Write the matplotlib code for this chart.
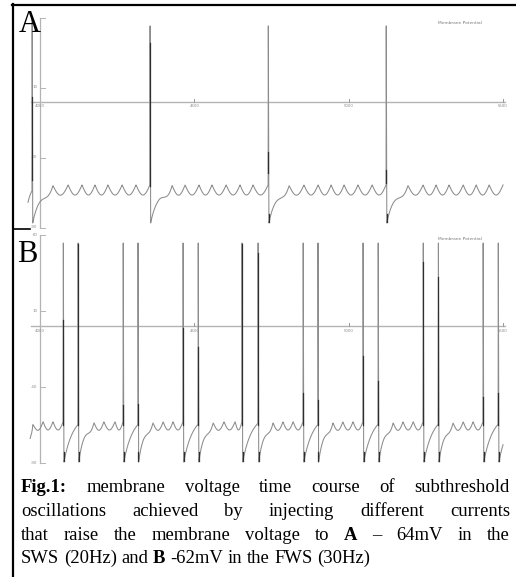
import numpy as np
import matplotlib
matplotlib.use("Agg")
import matplotlib.pyplot as plt

# time axis (ms) shared by both traces
x_ticks = [4000, 4500, 5000, 5500]
v_ticks = [60, 10, -40, -90]

# A: slow wave state, spikes riding on ~20 Hz subthreshold oscillations
a_start = (3961, -72)
a_spike_times = [3974, 4356, 4739, 5121]
a_spike_peaks = [60, 54, 54, 54]
a_trough = -86.8
a_rest = -66.8
a_osc_amp = 7.2
a_bumps = [[4042, 4091, 4136, 4178, 4220, 4266, 4311],
           [4428, 4470, 4515, 4557, 4603, 4648, 4690],
           [4807, 4855, 4901, 4943, 4985, 5030, 5076],
           [5192, 5241, 5283, 5325, 5371, 5413, 5455]]
# stretches of each spike where rise and fall overlap (drawn darker)
a_dark = [(3, -56), (42, -60), (-36, -51), (-49, -58)]
a_trough_dark = [False, False, True, True]

# B: fast wave state, spike doublets with ~30 Hz oscillations in between
b_start = (3968, -74)
b_spike_times = [4075, 4123, 4269, 4317, 4463, 4512, 4654, 4706,
                 4852, 4900, 5046, 5095, 5241, 5290, 5435, 5484]
b_spike_peak = 54.6
b_trough = -89.5
b_rest = -68.4
b_osc_amp = 5.4
b_bumps = [[3977, 4010, 4042], [4175, 4207, 4243], [4366, 4399, 4431],
           [4561, 4596, 4632], [4755, 4787, 4820], [4949, 4981, 5014],
           [5144, 5176, 5209], [5338, 5371, 5403]]
b_dark_tops = [4, 54, -52, -51, -1, -14, 54, 48,
               -44, -49, -20, -36, 42, 32, -47, -44]
b_dark_bottom = -65

t_end = 5500

W, H = 516, 577
PX_MS = 0.3087       # pixels per ms
X0_PX = 40           # pixel column of t = 4000


def relax(t0, t1, v0, base, tau, amp=0.0, bumps=()):
    """exponential recovery towards base, with optional oscillation peaks"""
    t = np.linspace(t0, t1, int((t1 - t0) / 0.2) + 2)
    v = base + (v0 - base) * np.exp(-(t - t0) / tau)
    if len(bumps) > 0:
        pk = np.array([2 * bumps[0] - bumps[1]] + list(bumps) + [t1], dtype=float)
        i = np.clip(np.searchsorted(pk, t, side="right") - 1, 0, len(pk) - 2)
        ph = np.clip((t - pk[i]) / (pk[i + 1] - pk[i]), 0, 1)
        env = np.clip((t - t0) / (bumps[0] - t0), 0, 1) ** 2
        v = v + env * amp * (1 - np.sin(np.pi * ph))
    return list(t), list(v)


def spike(ts, peak, trough):
    return [ts + 0.6, ts + 2.5], [peak, trough]


# --- build trace A
ta, va = relax(a_start[0], a_spike_times[0], a_start[1], -58, 15)
for k, ts in enumerate(a_spike_times):
    st, sv = spike(ts, a_spike_peaks[k], a_trough)
    ta += st
    va += sv
    t1 = a_spike_times[k + 1] if k + 1 < len(a_spike_times) else t_end
    t, v = relax(ts + 2.5, t1, a_trough, a_rest, 18, a_osc_amp, a_bumps[k])
    ta += t
    va += v

# --- build trace B
tb, vb = relax(b_start[0], b_spike_times[0], b_start[1], b_rest, 8, b_osc_amp, b_bumps[0])
for k, ts in enumerate(b_spike_times):
    st, sv = spike(ts, b_spike_peak, b_trough)
    tb += st
    vb += sv
    last = k + 1 == len(b_spike_times)
    t1 = t_end if last else b_spike_times[k + 1]
    if k % 2 == 0 or last:
        t, v = relax(ts + 2.5, t1, b_trough, -58, 30)
    else:
        t, v = relax(ts + 2.5, t1, b_trough, b_rest, 14, b_osc_amp, b_bumps[(k + 1) // 2])
    tb += t
    vb += v


def t_of(px):
    return 4000 + (px - X0_PX) / PX_MS


fig = plt.figure(figsize=(W / 100, H / 100), dpi=100)
fig.patch.set_facecolor("white")

trace_col = "#8c8c8c"
axis_col = "#b4b4b4"
tick_font = dict(fontsize=2.8, color="#8a8a8a", family="DejaVu Sans")


def panel(top_px, bot_px, zero_px, px_mv, legend_px, hidden_ticks=()):
    ax = fig.add_axes([0, 1 - bot_px / H, 1, (bot_px - top_px) / H])
    ax.set_xlim(t_of(0), t_of(W))
    ax.set_ylim((zero_px - bot_px) / px_mv, (zero_px - top_px) / px_mv)
    ax.axis("off")
    # graph axes of the simulator window
    ax.plot([t_of(0) + 100, t_end + 5], [0, 0], color=axis_col, lw=1.0, zorder=1)
    ax.plot([4000, 4000], [v_ticks[-1], v_ticks[0]], color=axis_col, lw=0.9, zorder=1)
    for v in v_ticks:
        ax.plot([4000, 4000 + 5 / PX_MS], [v, v], color=axis_col, lw=0.7, zorder=1)
        if v not in hidden_ticks:
            ax.text(4000 - 2.5 / PX_MS, v, str(v), ha="right", va="center", **tick_font)
    for t in x_ticks:
        if t != 4000:
            ax.plot([t, t], [0, 3 / px_mv], color="#999999", lw=0.7, zorder=1)
        ax.text(t, -2.5 / px_mv, str(t), ha="center", va="top", **tick_font)
    ax.text(t_of(438), (zero_px - legend_px) / px_mv, "Membrane Potential",
            ha="left", va="center", fontsize=3.2, color="#7a7a7a")
    return ax


# the top label of A sits under the panel letter
ax_a = panel(0, 229, 101.5, 1.4, 23, hidden_ticks=(60,))
ax_a.plot(ta, va, color=trace_col, lw=0.75, zorder=3)
for ts, (top, bot), td in zip(a_spike_times, a_dark, a_trough_dark):
    ax_a.plot([ts + 0.3, ts + 0.3], [top, bot], color="#2e2e2e", lw=0.9, zorder=4)
    if td:
        ax_a.plot([ts + 2.0, ts + 2.0], [-80, a_trough + 0.5], color="#2e2e2e", lw=0.9, zorder=4)

ax_b = panel(229, 470, 326, 1.52, 239)
ax_b.plot(tb, vb, color=trace_col, lw=0.75, zorder=3)
for ts, top in zip(b_spike_times, b_dark_tops):
    ax_b.plot([ts + 0.3, ts + 0.3], [top, b_dark_bottom], color="#2e2e2e", lw=0.9, zorder=4)
    ax_b.plot([ts + 2.0, ts + 2.0], [-83, b_trough + 0.5], color="#2e2e2e", lw=0.9, zorder=4)

# overlay in pixel units: frame, panel letters, caption
ov = fig.add_axes([0, 0, 1, 1])
ov.set_xlim(0, W)
ov.set_ylim(H, 0)
ov.axis("off")
ov.plot([13, 13], [4, H], color="black", lw=1.6)
ov.plot([12.3, W], [4.8, 4.8], color="black", lw=1.6)
ov.plot([13, 30], [229, 229], color="black", lw=1.2)

serif = "Liberation Serif"
ov.text(19, 32, "A", family=serif, fontsize=22, va="baseline")
ov.text(17, 262, "B", family=serif, fontsize=22, va="baseline")

caption = [
    [("Fig.1:", True), ("membrane", False), ("voltage", False), ("time", False),
     ("course", False), ("of", False), ("subthreshold", False)],
    [("oscillations", False), ("achieved", False), ("by", False), ("injecting", False),
     ("different", False), ("currents", False)],
    [("that", False), ("raise", False), ("the", False), ("membrane", False),
     ("voltage", False), ("to", False), ("A", True), ("\u2013", False), ("64mV", False),
     ("in", False), ("the", False)],
    [("SWS", False), ("(20Hz)", False), ("and", False), ("B", True), ("-62mV", False),
     ("in", False), ("the", False), ("FWS", False), ("(30Hz)", False)],
]
baselines = [492, 516, 540, 563]
cap_left, cap_right = 21, 510
cap_size = 13.4

renderer = fig.canvas.get_renderer()
for n, (words, yb) in enumerate(zip(caption, baselines)):
    texts = [ov.text(cap_left, yb, w, family=serif, fontsize=cap_size, va="baseline",
                     fontweight="bold" if b else "normal") for w, b in words]
    widths = [t.get_window_extent(renderer).width for t in texts]
    if n < len(caption) - 1:
        gap = (cap_right - cap_left - sum(widths)) / (len(words) - 1)
    else:
        gap = 0.25 * cap_size * 100 / 72
    x = cap_left
    for t, w in zip(texts, widths):
        t.set_x(x)
        x += w + gap

fig.savefig("out.png", dpi=100)
